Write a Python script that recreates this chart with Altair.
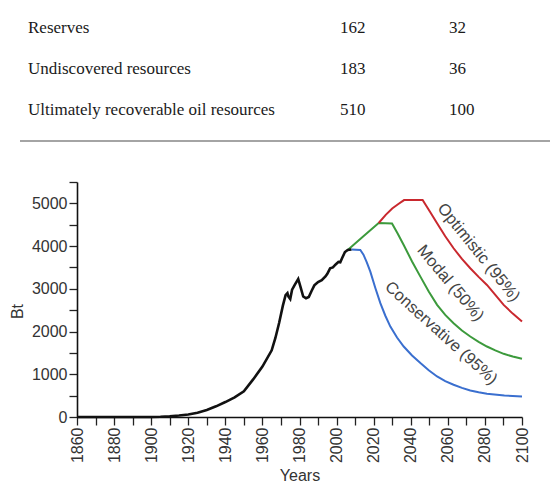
import altair as alt
import pandas as pd

# --- table above the figure ---
table_names = ["Reserves", "Undiscovered resources", "Ultimately recoverable oil resources"]
table_bt = [162, 183, 510]
table_share = [32, 36, 100]

# --- historical cumulative production (Bt) ---
hist_years = [1860, 1900, 1905, 1910, 1915, 1920, 1925, 1930, 1935, 1940, 1945, 1950,
              1955, 1960, 1965, 1967, 1969, 1971, 1972.5, 1973.5, 1974, 1975, 1976,
              1977.5, 1979.3, 1980.5, 1982, 1983.5, 1985, 1986.5, 1988, 1990, 1992,
              1994, 1995, 1996.5, 1998, 1999.5, 2001, 2002, 2003, 2004.5, 2006, 2008]
hist_values = [0, 0, 5, 15, 35, 60, 100, 165, 250, 350, 460, 600,
               880, 1180, 1560, 1850, 2200, 2600, 2850, 2900, 2820, 2760, 2980,
               3100, 3230, 3050, 2820, 2780, 2810, 2950, 3080, 3160, 3200,
               3290, 3350, 3480, 3500, 3570, 3630, 3620, 3720, 3860, 3910, 3920]

# --- scenarios ---
cons_years = [2008, 2012.8, 2014.5, 2016.3, 2018.2, 2020.9, 2023.6, 2026.3, 2029.0, 2032.6,
              2036.2, 2040.7, 2045.2, 2049.7, 2054.2, 2058.6, 2063.1, 2067.6, 2072.1,
              2076.6, 2081.1, 2090.5, 2100]
cons_values = [3920, 3910, 3800, 3620, 3402, 3020, 2664, 2370, 2117, 1860,
               1650, 1440, 1262, 1095, 949, 840, 755, 682, 621,
               578, 544, 505, 481]

modal_years = [2006, 2014, 2022.7, 2029.9, 2033, 2036.2, 2040.7, 2045.2, 2049.7, 2054.2,
               2058.6, 2063.1, 2067.6, 2072.1, 2076.6, 2081.1, 2085.6, 2090.1, 2095, 2100]
modal_values = [3910, 4210, 4540, 4530, 4290, 4026, 3640, 3285, 2935, 2624,
                2390, 2196, 2025, 1883, 1760, 1650, 1560, 1479, 1415, 1362]

opt_years = [2022.7, 2026.5, 2030, 2033.5, 2036.4, 2046.4, 2050.3, 2054.2, 2058.6, 2063.1,
             2067.6, 2072.1, 2076.6, 2081.1, 2085.6, 2090.1, 2095, 2100]
opt_values = [4540, 4730, 4880, 4990, 5077, 5077, 4810, 4533, 4230, 3949,
              3700, 3481, 3280, 3091, 2860, 2624, 2420, 2234]

scenario_names = ["Conservative (95%)", "Modal (50%)", "Optimistic (95%)"]
scenario_colors = ["#3a6fcf", "#3c9a3c", "#c9282e"]

# curve labels: anchor (year, Bt) and rotation
label_years = [2056.4, 2061.4, 2076.6]
label_values = [1963, 3131, 3850]
label_angles = [42, 50, 51]

hist_df = pd.DataFrame({"year": hist_years, "bt": hist_values})
scen_df = pd.concat([
    pd.DataFrame({"year": y, "bt": v, "scenario": n})
    for y, v, n in zip([cons_years, modal_years, opt_years],
                       [cons_values, modal_values, opt_values],
                       scenario_names)
])
label_df = pd.DataFrame({"year": label_years, "bt": label_values,
                         "text": scenario_names, "ang": label_angles})
table_df = pd.DataFrame({"name": table_names, "bt": table_bt, "share": table_share})

x_ticks = list(range(1860, 2101, 10))
y_ticks = list(range(0, 5501, 500))

x_enc = alt.X("year:Q",
              scale=alt.Scale(domain=[1860, 2100], nice=False, zero=False),
              axis=alt.Axis(values=x_ticks, labelAngle=-90, labelOverlap=False,
                            labelExpr="datum.value % 20 == 0 ? datum.label : ''",
                            format="d", title="Years", grid=False,
                            titleY=63, titleBaseline="alphabetic"))
y_enc = alt.Y("bt:Q",
              scale=alt.Scale(domain=[0, 5500], nice=False),
              axis=alt.Axis(values=y_ticks, labelOverlap=False,
                            labelExpr="datum.value % 1000 == 0 ? datum.value : ''",
                            title="Bt", grid=False, titleX=-60, titleY=129,
                            titleBaseline="middle"))

scen = alt.Chart(scen_df).mark_line(strokeWidth=2).encode(
    x=x_enc, y=y_enc,
    color=alt.Color("scenario:N", scale=alt.Scale(domain=scenario_names, range=scenario_colors),
                    legend=None),
    detail="scenario:N",
)

hist = alt.Chart(hist_df).mark_line(color="#111111", strokeWidth=2.6).encode(x=x_enc, y=y_enc)

labels = alt.Chart(label_df).mark_text(
    font="Liberation Sans", fontSize=16.5, color="#444444", align="center", baseline="middle"
).encode(x=x_enc, y=y_enc, text="text:N", angle=alt.Angle("ang:Q", scale=None))

main = alt.layer(scen, hist, labels)

# table rows, placed in the band above the plot
row_y = alt.Y("name:N", scale=alt.Scale(type="point", domain=table_names, range=[-149, -67], padding=0),
              axis=None)
text_style = dict(font="Liberation Serif", fontSize=17, color="#1a1a1a", align="left",
                  baseline="alphabetic")
t_names = alt.Chart(table_df).mark_text(**text_style).encode(x=alt.value(-49), y=row_y, text="name:N")
t_bt = alt.Chart(table_df).mark_text(**text_style).encode(x=alt.value(263), y=row_y, text="bt:Q")
t_share = alt.Chart(table_df).mark_text(**text_style).encode(x=alt.value(372), y=row_y, text="share:Q")
t_rule = alt.Chart(table_df).mark_rule(color="#a3a3a3", strokeWidth=1.5).encode(
    x=alt.value(-57), x2=alt.value(473), y=alt.value(-41))

table = alt.layer(t_names, t_bt, t_share, t_rule)

chart = alt.layer(main, table).resolve_scale(x="independent", y="independent").properties(
    width=445, height=235,
    autosize=alt.AutoSizeParams(type="none"),
    padding={"left": 77, "top": 182, "right": 28, "bottom": 65},
).configure_view(stroke=None).configure_axis(
    labelFont="Liberation Sans", labelFontSize=16, labelColor="#333333",
    titleFont="Liberation Sans", titleFontSize=16, titleColor="#333333", titleFontWeight="normal",
    domainColor="#111111", domainWidth=1.6, tickColor="#222222", tickWidth=1.3, tickSize=8,
    labelPadding=2,
)

chart.save("out.html", embed_options={"renderer": "svg", "actions": False})
